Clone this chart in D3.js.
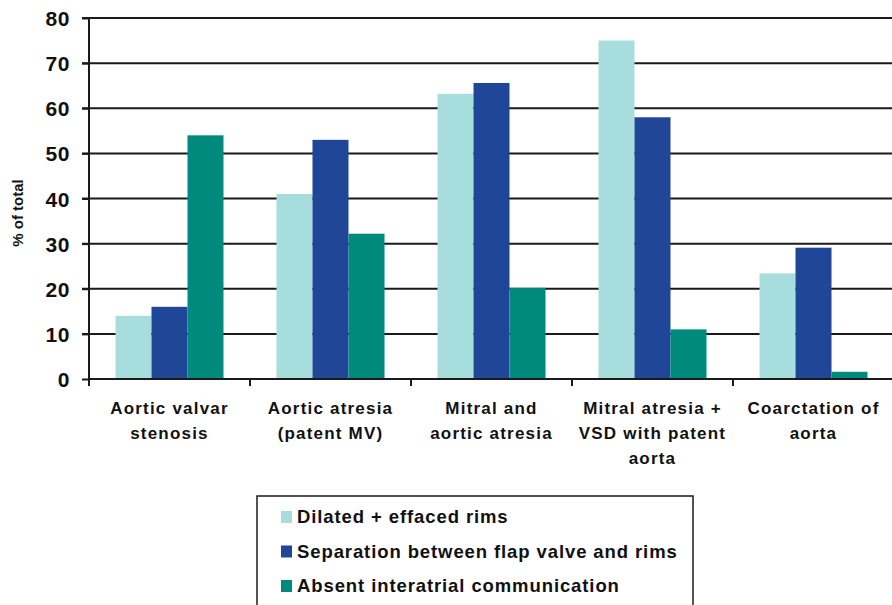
<!DOCTYPE html>
<html>
<head>
<meta charset="utf-8">
<script src="https://cdn.jsdelivr.net/npm/d3@7"></script>
<style>
  html, body { margin: 0; padding: 0; background: #fff; }
  svg { display: block; font-family: "Liberation Sans", Arial, sans-serif; font-weight: bold; }
</style>
</head>
<body>
<svg id="chart" width="892" height="605"></svg>
<script>
// Categories (multi-line labels) and the three series, in %
const categories = [
  ["Aortic valvar", "stenosis"],
  ["Aortic atresia", "(patent MV)"],
  ["Mitral and", "aortic atresia"],
  ["Mitral atresia +", "VSD with patent", "aorta"],
  ["Coarctation of", "aorta"]
];
const seriesNames = [
  "Dilated + effaced rims",
  "Separation between flap valve and rims",
  "Absent interatrial communication"
];
const dilated    = [14, 41, 63.2, 75, 23.4];
const separation = [16, 53, 65.6, 58, 29.1];
const absent     = [54, 32.2, 20.2, 11, 1.6];
const yTicks = [0, 10, 20, 30, 40, 50, 60, 70, 80];
const colors = ["#a7dddd", "#1f4697", "#008a7e"];

const series = [dilated, separation, absent];
const svg = d3.select("#chart");

const plotLeft = 89, plotRight = 894, plotTop = 18, plotBottom = 379;
const catKeys = categories.map((c, i) => i);

const x0 = d3.scaleBand().domain(catKeys).range([plotLeft, plotRight]).padding(0);
const x1 = d3.scaleBand().domain([0, 1, 2]).range([0, x0.bandwidth()])
  .paddingInner(0).paddingOuter(0.736);
const y = d3.scaleLinear().domain([0, 80]).range([plotBottom, plotTop]);

// Horizontal gridlines (drawn beneath the bars)
svg.append("g").selectAll("line").data(yTicks.filter(d => d > 0)).join("line")
  .attr("x1", plotLeft - 7).attr("x2", 892)
  .attr("y1", d => y(d)).attr("y2", d => y(d))
  .attr("stroke", "#1a1a1a").attr("stroke-width", 2);

// Bars
const groups = svg.append("g").selectAll("g").data(catKeys).join("g")
  .attr("transform", d => `translate(${x0(d)},0)`);
groups.selectAll("rect")
  .data(ci => series.map((s, si) => ({ si, v: s[ci] })))
  .join("rect")
  .attr("x", d => x1(d.si))
  .attr("width", x1.bandwidth())
  .attr("y", d => y(d.v))
  .attr("height", d => y(0) - y(d.v))
  .attr("fill", d => colors[d.si]);

// Y axis
const yAxis = d3.axisLeft(y).tickValues(yTicks).tickSize(7).tickPadding(12);
const gy = svg.append("g").attr("transform", `translate(${plotLeft},0)`).call(yAxis);
gy.select(".domain").attr("stroke", "#1a1a1a").attr("stroke-width", 2)
  .attr("d", `M0,${plotTop}V${plotBottom}`);
gy.selectAll(".tick line").attr("stroke", "#1a1a1a").attr("stroke-width", 2);
gy.selectAll(".tick text").attr("font-size", 21).attr("font-weight", "bold")
  .attr("font-family", "Liberation Sans, Arial, sans-serif")
  .attr("letter-spacing", "0.6px").attr("fill", "#111").attr("dy", "0.36em");

// X axis baseline and category separators
svg.append("line").attr("x1", plotLeft).attr("x2", 892)
  .attr("y1", plotBottom).attr("y2", plotBottom)
  .attr("stroke", "#1a1a1a").attr("stroke-width", 2);
svg.append("g").selectAll("line").data(catKeys).join("line")
  .attr("x1", d => x0(d)).attr("x2", d => x0(d))
  .attr("y1", plotBottom).attr("y2", plotBottom + 7)
  .attr("stroke", "#1a1a1a").attr("stroke-width", 2);

// Category labels
const labels = svg.append("g").selectAll("text").data(catKeys).join("text")
  .attr("text-anchor", "middle")
  .attr("font-size", 17).attr("letter-spacing", "1.2px").attr("fill", "#111");
labels.selectAll("tspan").data(ci => categories[ci].map(t => ({ ci, t }))).join("tspan")
  .attr("x", d => x0(d.ci) + x0.bandwidth() / 2)
  .attr("y", (d, i) => 414 + i * 25)
  .text(d => d.t);

// Y axis title
svg.append("text")
  .attr("transform", "translate(23,213) rotate(-90)")
  .attr("text-anchor", "middle").attr("font-size", 15).attr("fill", "#111")
  .text("% of total");

// Legend
const lg = svg.append("g");
lg.append("rect").attr("x", 257).attr("y", 496).attr("width", 436).attr("height", 130)
  .attr("fill", "none").attr("stroke", "#1a1a1a").attr("stroke-width", 1.5);
const items = lg.selectAll("g.item").data(seriesNames).join("g").attr("class", "item")
  .attr("transform", (d, i) => `translate(0,${i * 34.5})`);
items.append("rect").attr("x", 281).attr("y", 511).attr("width", 11).attr("height", 12)
  .attr("fill", (d, i) => colors[i]);
items.append("text").attr("x", 297).attr("y", 523)
  .attr("font-size", 18.5).attr("letter-spacing", "0.9px").attr("fill", "#111")
  .text(d => d);
</script>
</body>
</html>
